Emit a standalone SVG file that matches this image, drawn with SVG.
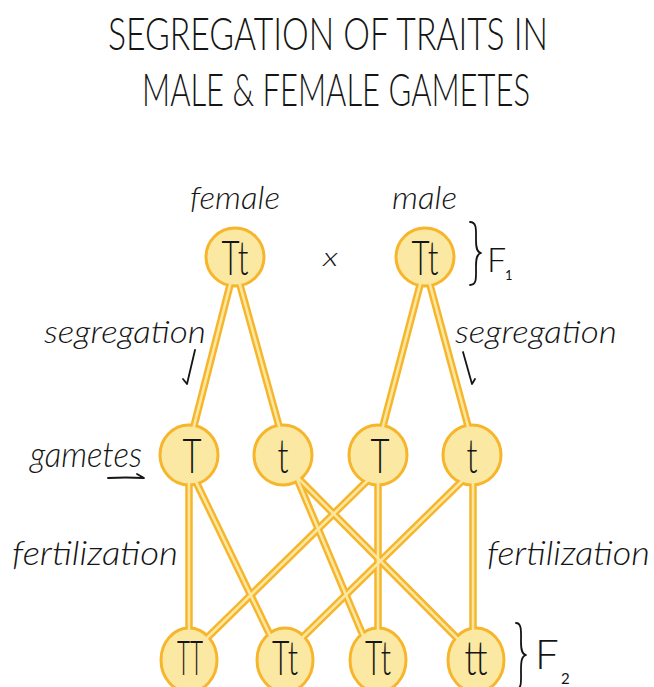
<svg xmlns="http://www.w3.org/2000/svg" width="654" height="687" viewBox="0 0 654 687">
<style>
.bg{fill:#ffffff}
.nd{fill:#FBE8A2;stroke:#F7B52B;stroke-width:3}
.co{fill:none;stroke:#F7B52B;stroke-width:7.5;stroke-linecap:butt}
.ci{fill:none;stroke:#FCE7A0;stroke-width:2.6;stroke-linecap:butt}
.nt{font-family:Lato,"Liberation Sans",sans-serif;font-weight:300;font-size:48px;fill:#151515;text-anchor:middle}
.ttl{font-family:Lato,"Liberation Sans",sans-serif;font-weight:300;font-size:32px;fill:#151515}
.lb{font-family:Lato,"Liberation Sans",sans-serif;font-weight:300;font-style:italic;fill:#151515}
.up{font-family:Lato,"Liberation Sans",sans-serif;font-weight:300;fill:#151515}
.sub{font-family:Lato,"Liberation Sans",sans-serif;font-weight:400;fill:#151515}
.ink{fill:none;stroke:#151515;stroke-width:1.8;stroke-linecap:round;stroke-linejoin:round}
</style>
<rect class="bg" x="0" y="0" width="654" height="687"/>

<g id="title">
<text class="ttl" transform="scale(1,1.4)" x="108" y="35.7" textLength="440" lengthAdjust="spacingAndGlyphs">SEGREGATION OF TRAITS IN</text>
<text class="ttl" transform="scale(1,1.4)" x="142" y="75.7" textLength="388" lengthAdjust="spacingAndGlyphs">MALE &amp; FEMALE GAMETES</text>
</g>

<g id="labels">
<text class="lb" x="190" y="209" font-size="32" textLength="90" lengthAdjust="spacingAndGlyphs">female</text>
<text class="lb" x="392" y="209" font-size="32" textLength="65" lengthAdjust="spacingAndGlyphs">male</text>
<text class="lb" x="323" y="266" font-size="26" textLength="15" lengthAdjust="spacingAndGlyphs">x</text>
<text class="lb" x="44" y="343" font-size="31" textLength="162" lengthAdjust="spacingAndGlyphs">segregation</text>
<text class="lb" x="455" y="343" font-size="31" textLength="162" lengthAdjust="spacingAndGlyphs">segregation</text>
<text class="lb" x="30" y="467" font-size="36" textLength="112" lengthAdjust="spacingAndGlyphs">gametes</text>
<text class="lb" x="12" y="565" font-size="34" textLength="166" lengthAdjust="spacingAndGlyphs">fertilization</text>
<text class="lb" x="487" y="565" font-size="34" textLength="163" lengthAdjust="spacingAndGlyphs">fertilization</text>
<path class="ink" d="M195,350 L187,384 L183,379"/>
<path class="ink" d="M463,352 L472,384 L475,379"/>
<path class="ink" d="M108,478 Q126,477 144,478 L137,474"/>
<path class="ink" d="M470,222 C477,222 476,230 476,240 C476,248 477,252 481,253 C477,254 476,258 476,266 C476,278 477,285 470,285"/>
<text class="up" x="487" y="272" font-size="34">F</text>
<text class="sub" x="505" y="280" font-size="13">1</text>
<path class="ink" d="M516,623 C522,623 521,632 521,642 C521,650 522,654 526,655 C522,656 521,660 521,670 C521,682 522,688 516,690"/>
<text class="up" x="535" y="669" font-size="42">F</text>
<text class="sub" x="561" y="684" font-size="15">2</text>
</g>

<g id="node-female"><circle class="nd" cx="235" cy="257" r="29"/><text class="nt" x="235" y="275" textLength="27" lengthAdjust="spacingAndGlyphs">Tt</text></g>
<g id="node-male"><circle class="nd" cx="425" cy="257" r="29"/><text class="nt" x="425" y="275" textLength="27" lengthAdjust="spacingAndGlyphs">Tt</text></g>
<g id="gamete-T-female"><ellipse class="nd" cx="189" cy="455" rx="29" ry="30"/><text class="nt" x="192" y="473" textLength="19" lengthAdjust="spacingAndGlyphs">T</text></g>
<g id="gamete-t-female"><ellipse class="nd" cx="283" cy="455" rx="29" ry="30"/><text class="nt" x="283" y="473" textLength="11" lengthAdjust="spacingAndGlyphs">t</text></g>
<g id="gamete-T-male"><ellipse class="nd" cx="378" cy="455" rx="29" ry="30"/><text class="nt" x="380" y="473" textLength="19" lengthAdjust="spacingAndGlyphs">T</text></g>
<g id="gamete-t-male"><ellipse class="nd" cx="472" cy="455" rx="29" ry="30"/><text class="nt" x="472" y="473" textLength="11" lengthAdjust="spacingAndGlyphs">t</text></g>
<g id="f2-TT"><ellipse class="nd" cx="189" cy="660" rx="28" ry="32"/><text class="nt" x="190" y="675" textLength="26" lengthAdjust="spacingAndGlyphs">TT</text></g>
<g id="f2-Tt-1"><ellipse class="nd" cx="285" cy="660" rx="28" ry="32"/><text class="nt" x="285" y="675" textLength="26" lengthAdjust="spacingAndGlyphs">Tt</text></g>
<g id="f2-Tt-2"><ellipse class="nd" cx="378" cy="660" rx="28" ry="32"/><text class="nt" x="378" y="675" textLength="26" lengthAdjust="spacingAndGlyphs">Tt</text></g>
<g id="f2-tt"><ellipse class="nd" cx="476" cy="660" rx="28" ry="32"/><text class="nt" x="476" y="675" textLength="23" lengthAdjust="spacingAndGlyphs">tt</text></g>

<g id="connectors">
<path class="co" d="M230,285 L194,426"/>
<path class="co" d="M240,285 L279,426"/>
<path class="co" d="M420,285 L383,426"/>
<path class="co" d="M430,285 L468,426"/>
<path class="co" d="M189,485 L189,628"/>
<path class="co" d="M197,484 L269,633"/>
<path class="co" d="M298,481 L362,633"/>
<path class="co" d="M300,480 L456,637"/>
<path class="co" d="M366,482 L208,637"/>
<path class="co" d="M378,485 L378,628"/>
<path class="co" d="M461,482 L304,636"/>
<path class="co" d="M473,485 L473,628"/>
<path class="ci" d="M231,281.1 L193,429.9"/>
<path class="ci" d="M238.9,281.1 L280.1,429.9"/>
<path class="ci" d="M421,281.1 L382,429.9"/>
<path class="ci" d="M429,281.1 L469,429.9"/>
<path class="ci" d="M189,481 L189,632"/>
<path class="ci" d="M195.3,480.4 L270.7,636.6"/>
<path class="ci" d="M296.4,477.3 L363.6,636.7"/>
<path class="ci" d="M297.2,477.2 L458.8,639.8"/>
<path class="ci" d="M368.9,479.2 L205.1,639.8"/>
<path class="ci" d="M378,481 L378,632"/>
<path class="ci" d="M463.9,479.2 L301.1,638.8"/>
<path class="ci" d="M473,481 L473,632"/>
</g>
</svg>
